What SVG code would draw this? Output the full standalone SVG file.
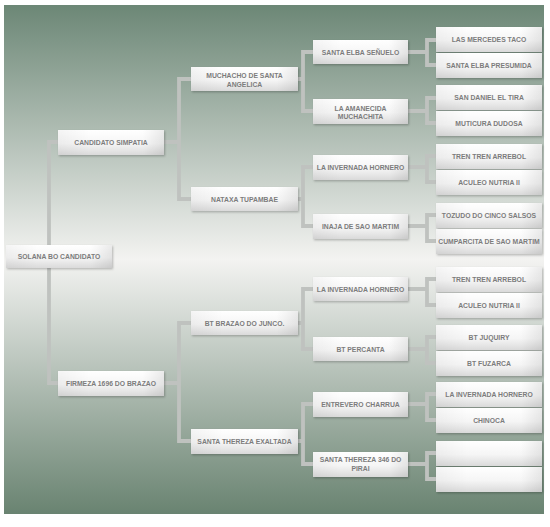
<svg xmlns="http://www.w3.org/2000/svg" width="550" height="527" viewBox="0 0 550 527">
<defs>
<linearGradient id="bg" x1="0" y1="0" x2="0" y2="1">
<stop offset="0" stop-color="#6c8776"/>
<stop offset="0.5" stop-color="#f3f3f1"/>
<stop offset="1" stop-color="#698371"/>
</linearGradient>
<linearGradient id="boxg" x1="0" y1="0" x2="0" y2="1">
<stop offset="0" stop-color="#ffffff"/>
<stop offset="0.55" stop-color="#f5f5f5"/>
<stop offset="1" stop-color="#dadada"/>
</linearGradient>
<linearGradient id="boxh" x1="0" y1="0" x2="1" y2="0">
<stop offset="0" stop-color="#000" stop-opacity="0.04"/>
<stop offset="0.3" stop-color="#000" stop-opacity="0"/>
<stop offset="0.8" stop-color="#000" stop-opacity="0"/>
<stop offset="1" stop-color="#000" stop-opacity="0.08"/>
</linearGradient>
<filter id="sh" x="-10%" y="-20%" width="120%" height="150%">
<feDropShadow dx="1" dy="1.2" stdDeviation="0.9" flood-color="#000" flood-opacity="0.25"/>
</filter>
</defs>
<style>
.b{fill:url(#boxg);filter:url(#sh)}
.bh{fill:url(#boxh)}
.t{font-family:"Liberation Sans",Arial,sans-serif;font-size:6.8px;font-weight:bold;fill:#7c7c7c;text-anchor:middle}
.c{fill:none;stroke:#bfc2bf;stroke-width:3.8;stroke-linejoin:miter}
</style>
<rect x="0" y="0" width="550" height="527" fill="#ffffff"/>
<rect x="4" y="5" width="540" height="509" fill="url(#bg)"/>
<g id="connectors">
<path class="c" d="M49,245 V142 H58 M49,268 V383 H58"/>
<path class="c" d="M164,142 H179 M191,79 H179 V199 H191"/>
<path class="c" d="M164,383 H179 M191,323 H179 V441 H191"/>
<path class="c" d="M298,79 H303 M313,52 H303 V111 H313"/>
<path class="c" d="M298,199 H303 M313,167 H303 V226 H313"/>
<path class="c" d="M298,323 H303 M313,289 H303 V349 H313"/>
<path class="c" d="M298,441 H303 M313,404 H303 V464 H313"/>
<path class="c" d="M408,52 H427 M436,40 H427 V65 H436"/>
<path class="c" d="M408,111 H427 M436,98 H427 V123 H436"/>
<path class="c" d="M408,167 H427 M436,156 H427 V182 H436"/>
<path class="c" d="M408,226 H427 M436,215 H427 V241 H436"/>
<path class="c" d="M408,289 H427 M436,279 H427 V305 H436"/>
<path class="c" d="M408,349 H427 M436,337 H427 V363 H436"/>
<path class="c" d="M408,404 H427 M436,394 H427 V420 H436"/>
<path class="c" d="M408,464 H427 M436,453 H427 V479 H436"/>
</g>
<g id="n0"><rect class="b" x="6" y="245" width="106" height="23"/><rect class="bh" x="6" y="245" width="106" height="23"/><text class="t" x="59" y="259">SOLANA BO CANDIDATO</text></g>
<g id="n1"><rect class="b" x="58" y="130" width="106" height="25"/><rect class="bh" x="58" y="130" width="106" height="25"/><text class="t" x="111" y="144.5">CANDIDATO SIMPATIA</text></g>
<g id="n2"><rect class="b" x="58" y="371" width="106" height="25"/><rect class="bh" x="58" y="371" width="106" height="25"/><text class="t" x="111" y="385.5">FIRMEZA 1696 DO BRAZAO</text></g>
<g id="n3"><rect class="b" x="191" y="67" width="107" height="24"/><rect class="bh" x="191" y="67" width="107" height="24"/><text class="t" x="244.5" y="77.5">MUCHACHO DE SANTA</text><text class="t" x="244.5" y="86.5">ANGELICA</text></g>
<g id="n4"><rect class="b" x="191" y="187" width="107" height="24"/><rect class="bh" x="191" y="187" width="107" height="24"/><text class="t" x="244.5" y="201.5">NATAXA TUPAMBAE</text></g>
<g id="n5"><rect class="b" x="191" y="311" width="107" height="24"/><rect class="bh" x="191" y="311" width="107" height="24"/><text class="t" x="244.5" y="325.5">BT BRAZAO DO JUNCO.</text></g>
<g id="n6"><rect class="b" x="191" y="429" width="107" height="25"/><rect class="bh" x="191" y="429" width="107" height="25"/><text class="t" x="244.5" y="443.5">SANTA THEREZA EXALTADA</text></g>
<g id="n7"><rect class="b" x="313" y="40" width="95" height="24"/><rect class="bh" x="313" y="40" width="95" height="24"/><text class="t" x="360.5" y="54.5">SANTA ELBA SEÑUELO</text></g>
<g id="n8"><rect class="b" x="313" y="99" width="95" height="25"/><rect class="bh" x="313" y="99" width="95" height="25"/><text class="t" x="360.5" y="110.5">LA AMANECIDA</text><text class="t" x="360.5" y="119">MUCHACHITA</text></g>
<g id="n9"><rect class="b" x="313" y="155" width="95" height="25"/><rect class="bh" x="313" y="155" width="95" height="25"/><text class="t" x="360.5" y="169.5">LA INVERNADA HORNERO</text></g>
<g id="n10"><rect class="b" x="313" y="214" width="95" height="25"/><rect class="bh" x="313" y="214" width="95" height="25"/><text class="t" x="360.5" y="228.5">INAJA DE SAO MARTIM</text></g>
<g id="n11"><rect class="b" x="313" y="277" width="95" height="24"/><rect class="bh" x="313" y="277" width="95" height="24"/><text class="t" x="360.5" y="291.5">LA INVERNADA HORNERO</text></g>
<g id="n12"><rect class="b" x="313" y="337" width="95" height="24"/><rect class="bh" x="313" y="337" width="95" height="24"/><text class="t" x="360.5" y="351.5">BT PERCANTA</text></g>
<g id="n13"><rect class="b" x="313" y="392" width="95" height="25"/><rect class="bh" x="313" y="392" width="95" height="25"/><text class="t" x="360.5" y="406.5">ENTREVERO CHARRUA</text></g>
<g id="n14"><rect class="b" x="313" y="452" width="95" height="25"/><rect class="bh" x="313" y="452" width="95" height="25"/><text class="t" x="360.5" y="461.5">SANTA THEREZA 346 DO</text><text class="t" x="360.5" y="470.5">PIRAI</text></g>
<g id="n15"><rect class="b" x="436" y="27" width="106" height="25"/><rect class="bh" x="436" y="27" width="106" height="25"/><text class="t" x="489" y="41.5">LAS MERCEDES TACO</text></g>
<g id="n16"><rect class="b" x="436" y="53" width="106" height="25"/><rect class="bh" x="436" y="53" width="106" height="25"/><text class="t" x="489" y="67.5">SANTA ELBA PRESUMIDA</text></g>
<g id="n17"><rect class="b" x="436" y="85" width="106" height="25"/><rect class="bh" x="436" y="85" width="106" height="25"/><text class="t" x="489" y="99.5">SAN DANIEL EL TIRA</text></g>
<g id="n18"><rect class="b" x="436" y="111" width="106" height="25"/><rect class="bh" x="436" y="111" width="106" height="25"/><text class="t" x="489" y="125.5">MUTICURA DUDOSA</text></g>
<g id="n19"><rect class="b" x="436" y="144" width="106" height="25"/><rect class="bh" x="436" y="144" width="106" height="25"/><text class="t" x="489" y="158.5">TREN TREN ARREBOL</text></g>
<g id="n20"><rect class="b" x="436" y="170" width="106" height="25"/><rect class="bh" x="436" y="170" width="106" height="25"/><text class="t" x="489" y="184.5">ACULEO NUTRIA II</text></g>
<g id="n21"><rect class="b" x="436" y="203" width="106" height="25"/><rect class="bh" x="436" y="203" width="106" height="25"/><text class="t" x="489" y="217.5">TOZUDO DO CINCO SALSOS</text></g>
<g id="n22"><rect class="b" x="436" y="229" width="106" height="25"/><rect class="bh" x="436" y="229" width="106" height="25"/><text class="t" x="489" y="243.5">CUMPARCITA DE SAO MARTIM</text></g>
<g id="n23"><rect class="b" x="436" y="267" width="106" height="25"/><rect class="bh" x="436" y="267" width="106" height="25"/><text class="t" x="489" y="281.5">TREN TREN ARREBOL</text></g>
<g id="n24"><rect class="b" x="436" y="293" width="106" height="25"/><rect class="bh" x="436" y="293" width="106" height="25"/><text class="t" x="489" y="307.5">ACULEO NUTRIA II</text></g>
<g id="n25"><rect class="b" x="436" y="325" width="106" height="25"/><rect class="bh" x="436" y="325" width="106" height="25"/><text class="t" x="489" y="339.5">BT JUQUIRY</text></g>
<g id="n26"><rect class="b" x="436" y="351" width="106" height="25"/><rect class="bh" x="436" y="351" width="106" height="25"/><text class="t" x="489" y="365.5">BT FUZARCA</text></g>
<g id="n27"><rect class="b" x="436" y="382" width="106" height="25"/><rect class="bh" x="436" y="382" width="106" height="25"/><text class="t" x="489" y="396.5">LA INVERNADA HORNERO</text></g>
<g id="n28"><rect class="b" x="436" y="408" width="106" height="25"/><rect class="bh" x="436" y="408" width="106" height="25"/><text class="t" x="489" y="422.5">CHINOCA</text></g>
<g id="n29"><rect class="b" x="436" y="441" width="106" height="25"/><rect class="bh" x="436" y="441" width="106" height="25"/></g>
<g id="n30"><rect class="b" x="436" y="467" width="106" height="25"/><rect class="bh" x="436" y="467" width="106" height="25"/></g>
</svg>
